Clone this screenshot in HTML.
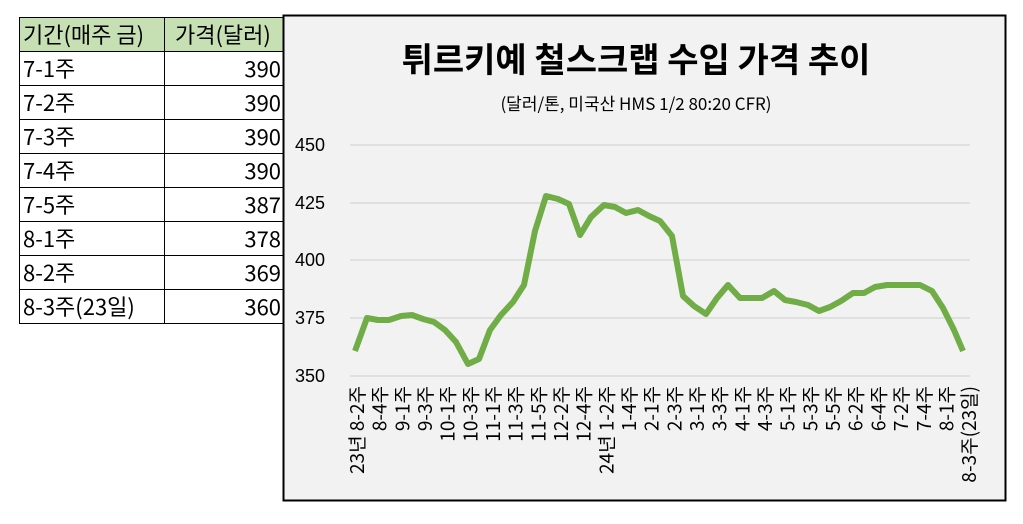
<!DOCTYPE html>
<html><head><meta charset="utf-8"><style>
body{margin:0;width:1023px;height:524px;background:#fff;overflow:hidden;font-family:"Liberation Sans","Noto Sans CJK KR",sans-serif;}
table{position:absolute;left:19px;top:17px;border-collapse:collapse;font-family:"Noto Sans CJK KR","Liberation Sans",sans-serif;font-size:22px;}
td{border:1px solid #000;height:33px;padding:0 3px;line-height:33px;}
td.a{width:138px}td.b{width:106px;text-align:right}
tr.h td{background:#c6e0b4;}
tr.h td.b{text-align:left;padding-left:10px}
</style></head><body>
<table>
<tr class="h"><td class="a">기간(매주 금)</td><td class="b">가격(달러)</td></tr>
<tr><td class="a">7-1주</td><td class="b">390</td></tr>
<tr><td class="a">7-2주</td><td class="b">390</td></tr>
<tr><td class="a">7-3주</td><td class="b">390</td></tr>
<tr><td class="a">7-4주</td><td class="b">390</td></tr>
<tr><td class="a">7-5주</td><td class="b">387</td></tr>
<tr><td class="a">8-1주</td><td class="b">378</td></tr>
<tr><td class="a">8-2주</td><td class="b">369</td></tr>
<tr><td class="a">8-3주(23일)</td><td class="b">360</td></tr>
</table>
<svg style="position:absolute;left:0;top:0" width="1023" height="524">
<rect x="283.5" y="15.5" width="722" height="485" fill="#f2f2f2" stroke="#000" stroke-width="2"/>
<text x="636" y="72" text-anchor="middle" font-family="Noto Sans CJK KR,sans-serif" font-weight="bold" font-size="34">튀르키예 철스크랩 수입 가격 추이</text>
<text x="636" y="110" text-anchor="middle" font-family="Noto Sans CJK KR,sans-serif" font-size="17">(달러/톤, 미국산 HMS 1/2 80:20 CFR)</text>
<g stroke="#d9d9d9" stroke-width="1.5">
<line x1="350" x2="970" y1="145" y2="145"/><line x1="350" x2="970" y1="203" y2="203"/><line x1="350" x2="970" y1="260" y2="260"/><line x1="350" x2="970" y1="318" y2="318"/><line x1="350" x2="970" y1="376" y2="376"/></g>
<g font-size="18" font-family="Liberation Sans,sans-serif" fill="#000">
<text x="295" y="151">450</text><text x="295" y="209">425</text><text x="295" y="266">400</text><text x="295" y="324">375</text><text x="295" y="382">350</text></g>
<polyline fill="none" stroke="#70ad47" stroke-width="6" stroke-linejoin="round" points="355,351 367,318 378,320 389,320 401,316 412,315 423,319 434,322 445,330 456,342 468,364 479,359 490,330 501,315 513,302 524,285 535,231 546,196 558,199 569,204 580,235 591,217 604,205 615,207 626,213 638,210 649,216 660,221 672,236 683,296 694,306 706,314 717,298 728,285 740,298 751,298 762,298 774,291 785,300 796,302 808,305 819,311 830,307 841,301 853,293 864,293 875,287 887,285 898,285 909,285 920,285 932,291 943,308 954,330 963,351"/>
<g font-size="19" font-family="Noto Sans CJK KR,sans-serif" fill="#000" id="lab"></g>
</svg>
<script>
var L=["23년 8-2주","8-4주","9-1주","9-3주","10-1주","10-3주","11-1주","11-3주","11-5주","12-2주","12-4주","24년 1-2주","1-4주","2-1주","2-3주","3-1주","3-3주","4-1주","4-3주","5-1주","5-3주","5-5주","6-2주","6-4주","7-2주","7-4주","8-1주","8-3주(23일)"];
var g=document.getElementById('lab'),s='';
for(var i=0;i<L.length;i++){var x=364+i*22.67;s+='<text transform="translate('+x+',386) rotate(-90)" text-anchor="end">'+L[i]+'</text>';}
g.innerHTML=s;
</script>
</body></html>
